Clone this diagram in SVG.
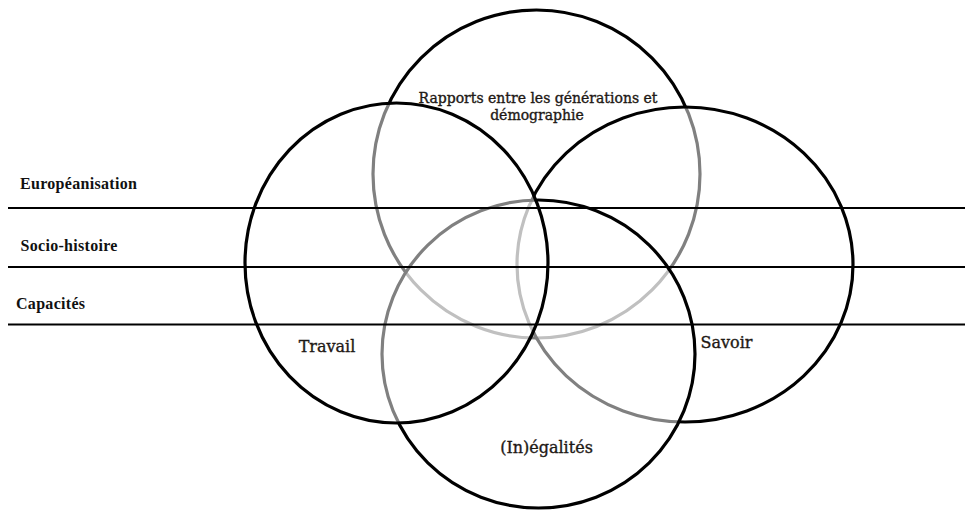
<svg xmlns="http://www.w3.org/2000/svg" width="965" height="511" viewBox="0 0 965 511">
<style>
.c{fill:#ffffff;fill-opacity:0.5;stroke:#000;stroke-width:3.2}
.l{fill:none;stroke:#000;stroke-width:2}
.t{font-family:"DejaVu Serif","Liberation Serif",serif;fill:#1e1915;stroke:#1e1915;stroke-width:0.35;text-anchor:middle}
.b{font-family:"Liberation Serif","Times New Roman",serif;font-weight:bold;font-size:16px;fill:#111;letter-spacing:0.3px}
</style>
<rect x="0" y="0" width="965" height="511" fill="#fff"/>
<g id="node-rapports">
<ellipse class="c" cx="536.5" cy="174" rx="163.5" ry="164"/>
<text class="t" font-size="14" x="538" y="103">Rapports entre les générations et</text>
<text class="t" font-size="14" x="537" y="120">démographie</text>
</g>
<g id="node-savoir">
<ellipse class="c" cx="685" cy="264.5" rx="168" ry="157.5"/>
<text class="t" font-size="16" x="726.5" y="348">Savoir</text>
</g>
<g id="node-inegalites">
<ellipse class="c" cx="538.5" cy="354" rx="156.5" ry="154"/>
<text class="t" font-size="16" x="546.5" y="453">(In)égalités</text>
</g>
<g id="node-travail">
<ellipse class="c" cx="396.5" cy="263" rx="151.5" ry="160"/>
<text class="t" font-size="16" x="327" y="352">Travail</text>
</g>
<g id="bands">
<line class="l" x1="8" y1="208" x2="965" y2="208"/>
<line class="l" x1="8" y1="267" x2="965" y2="267"/>
<line class="l" x1="8" y1="324.5" x2="965" y2="324.5"/>
<text class="b" x="20" y="189">Européanisation</text>
<text class="b" x="20.5" y="251">Socio-histoire</text>
<text class="b" x="16" y="309">Capacités</text>
</g>
</svg>
